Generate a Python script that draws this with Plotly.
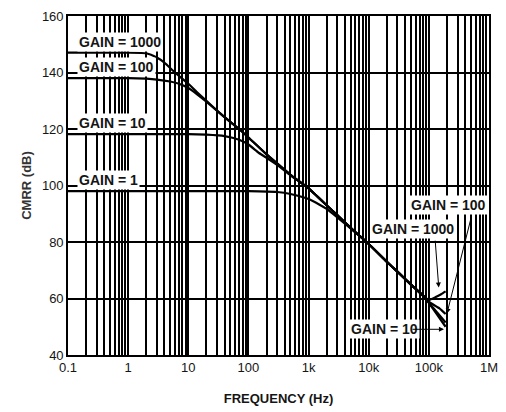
import math
import plotly.graph_objects as go

# ---- data ----
freq_g1000 = [0.1, 1, 2, 3, 4, 6, 10, 14, 20, 30, 50, 70, 100, 200, 300, 500, 1000,
              2000, 3000, 5000, 10000, 20000, 30000, 50000, 85000, 100000, 130000, 160000, 190000]
cmrr_g1000 = [147, 147, 146.8, 145.3, 143.5, 140, 136, 133, 130, 126.5, 122.5, 120, 117, 111, 107.8, 103.8, 99,
              93, 89.5, 85, 79.3, 73, 69.5, 65, 60.5, 59.5, 60.5, 61.5, 62.5]

freq_g100 = [0.1, 1, 2, 3, 5, 7, 10, 14, 20, 30, 50, 70, 100, 200, 300, 500, 1000,
             2000, 3000, 5000, 10000, 20000, 30000, 50000, 85000, 100000, 150000, 190000]
cmrr_g100 = [138, 138, 137.8, 137.5, 136.8, 136, 134.5, 132.3, 129.7, 126.5, 122.5, 120, 117, 111, 107.8, 103.8, 99,
             93, 89.5, 85, 79.3, 73, 69.5, 65, 60.5, 58.8, 56.5, 54.5]

freq_g10 = [0.1, 1, 10, 20, 40, 70, 100, 150, 200, 300, 500, 1000,
            2000, 3000, 5000, 10000, 20000, 30000, 50000, 85000, 100000, 140000, 190000]
cmrr_g10 = [118.2, 118.2, 118.2, 118, 117.5, 116.2, 114.5, 111.5, 109.8, 107.3, 103.6, 99,
            93, 89.5, 85, 79.3, 73, 69.5, 65, 60.5, 58.5, 54, 50]

freq_g1 = [0.1, 1, 10, 100, 300, 500, 1000, 1500, 2000, 3000, 5000, 10000,
           20000, 30000, 50000, 85000, 100000, 190000]
cmrr_g1 = [98, 98, 98, 98, 97.7, 97, 95.2, 93.3, 91.7, 88.7, 84.8, 79.3,
           73, 69.5, 65, 60.5, 58.5, 51.5]

x_decades = [0.1, 1, 10, 100, 1000, 10000, 100000, 1000000]
x_labels = ["0.1", "1", "10", "100", "1k", "10k", "100k", "1M"]
y_ticks = [40, 60, 80, 100, 120, 140, 160]

# gridline positions: 1..9 per decade
x_grid = []
for dec in x_decades[:-1]:
    for d in range(1, 10):
        x_grid.append(d * dec)
x_grid.append(x_decades[-1])
x_text = [x_labels[x_decades.index(v)] if v in x_decades else "" for v in x_grid]

FONT = "Liberation Sans, Arial, sans-serif"
INK = "#151515"

fig = go.Figure()
for fx, cy in [(freq_g1000, cmrr_g1000), (freq_g100, cmrr_g100),
               (freq_g10, cmrr_g10), (freq_g1, cmrr_g1)]:
    fig.add_trace(go.Scatter(x=fx, y=cy, mode="lines",
                             line=dict(color="black", width=2.2, shape="spline", smoothing=0.4),
                             showlegend=False, hoverinfo="skip"))

L = math.log10
label_font = dict(family=FONT, size=14, color=INK, weight="bold")
anns = []
# left labels
for txt, yv in [("GAIN = 1000", 150.9), ("GAIN = 100", 142.1), ("GAIN = 10", 122.1), ("GAIN = 1", 102.1)]:
    anns.append(dict(x=L(0.14), y=yv, xref="x", yref="y", text=txt, showarrow=False, xanchor="left",
                     bgcolor="white", borderpad=1, font=label_font))
# right labels
for txt, fx, yv in [("GAIN = 1000", 53700, 84.6), ("GAIN = 100", 215000, 93.0), ("GAIN = 10", 18100, 49.1)]:
    anns.append(dict(x=L(fx), y=yv, xref="x", yref="y", text=txt, showarrow=False,
                     bgcolor="white", borderpad=1, font=label_font))
# arrows (head <- tail)
for hx, hy, tx, ty in [(146000, 63.9, 127000, 81.0), (200000, 54.7, 510000, 89.0), (178000, 49.1, 50500, 49.1)]:
    anns.append(dict(x=L(hx), y=hy, ax=L(tx), ay=ty, xref="x", yref="y", axref="x", ayref="y",
                     text="", showarrow=True, arrowhead=2, arrowsize=1, arrowwidth=1, arrowcolor="black"))

fig.update_layout(
    width=506, height=412,
    margin=dict(l=68, r=8, t=16, b=54),
    paper_bgcolor="white", plot_bgcolor="white",
    font=dict(family=FONT, size=14, color=INK),
    annotations=anns,
    xaxis=dict(type="log", range=[-1, 6], tickvals=x_grid, ticktext=x_text, showgrid=True,
               gridcolor="black", gridwidth=1.5, zeroline=False, showline=True, linecolor="black", linewidth=1.6,
               mirror=True, ticks="", tickfont=dict(family=FONT, size=13, color=INK),
               title=dict(text="FREQUENCY (Hz)", standoff=19,
                          font=dict(family=FONT, size=13, color=INK, weight="bold"))),
    yaxis=dict(range=[40, 160], tickvals=y_ticks, showgrid=True, gridcolor="black", gridwidth=1.5,
               zeroline=False, showline=True, linecolor="black", linewidth=1.6, mirror=True, ticks="",
               tickfont=dict(family=FONT, size=13, color=INK),
               title=dict(text="CMRR (dB)", standoff=7,
                          font=dict(family=FONT, size=13, color="#333333", weight="bold"))),
)

fig.write_html("out.html", config={"displayModeBar": False},
               post_script="document.body.style.margin='0';")
